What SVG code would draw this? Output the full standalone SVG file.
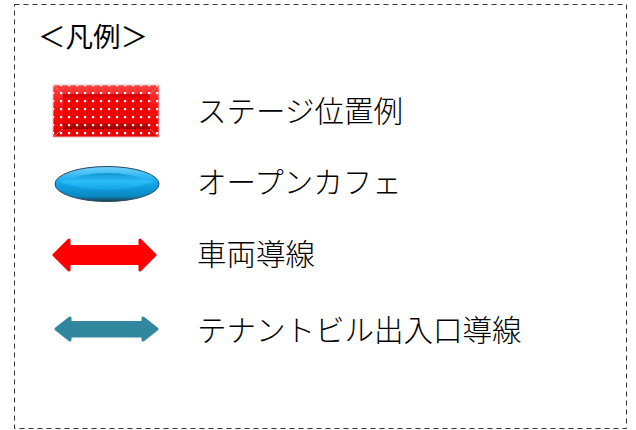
<svg xmlns="http://www.w3.org/2000/svg" width="636" height="430" viewBox="0 0 636 430">
<style>
.lbl{font-family:"Noto Sans CJK JP","DejaVu Sans",sans-serif;font-size:29.5px;fill:#000;font-weight:300}
.ttl{font-family:"Noto Sans CJK JP","DejaVu Sans",sans-serif;font-size:27.5px;fill:#000}
</style>
<defs>
<pattern id="dots" x="0" y="0" width="8" height="8" patternUnits="userSpaceOnUse">
<rect x="4" y="4" width="2.2" height="2.2" fill="#fff"/>
</pattern>
<linearGradient id="redV" x1="0" y1="0" x2="0" y2="1">
<stop offset="0" stop-color="#ff4040"/>
<stop offset="0.5" stop-color="#ff0a0a"/>
<stop offset="1" stop-color="#e80000"/>
</linearGradient>
<linearGradient id="redIn" x1="0" y1="0" x2="0" y2="1">
<stop offset="0" stop-color="#d00000"/>
<stop offset="0.15" stop-color="#f80000"/>
<stop offset="0.8" stop-color="#f00000"/>
<stop offset="1" stop-color="#8a0000"/>
</linearGradient>
<linearGradient id="blueG" x1="0" y1="0" x2="0" y2="1">
<stop offset="0" stop-color="#6fd0f8"/>
<stop offset="0.45" stop-color="#12aaf0"/>
<stop offset="0.85" stop-color="#0a88c0"/>
<stop offset="1" stop-color="#203c50"/>
</linearGradient>
<linearGradient id="blueLens" x1="0" y1="0" x2="0" y2="1">
<stop offset="0" stop-color="#0a90d0"/>
<stop offset="0.5" stop-color="#2ec0fa"/>
<stop offset="1" stop-color="#10a4e4"/>
</linearGradient>
</defs>
<rect x="14.5" y="4.5" width="612" height="424" fill="#fff" stroke="#333" stroke-width="1" stroke-dasharray="5 4"/>
<g id="title"><text class="ttl" x="38" y="47">＜凡例＞</text></g>
<g id="legend-stage">
<rect x="53" y="85" width="106" height="52" fill="url(#redV)" stroke="#e0b8b8" stroke-width="1"/>
<rect x="63" y="94" width="87" height="35" fill="url(#redIn)"/>
<path d="M53 85 L63 94 M159 85 L150 94 M53 137 L63 129 M159 137 L150 129" stroke="#ff7070" stroke-width="1"/>
<rect x="53" y="85" width="106" height="52" fill="url(#dots)"/>
<text class="lbl" x="197" y="122">ステージ位置例</text>
</g>
<g id="legend-cafe">
<ellipse cx="107" cy="184" rx="52" ry="17.5" fill="url(#blueG)" stroke="#2a4a60" stroke-width="1"/>
<path d="M60 182 Q107 164 154 182 Q107 198 60 182 Z" fill="url(#blueLens)" opacity="0.9"/>
<text class="lbl" x="197" y="193">オープンカフェ</text>
</g>
<g id="connectors">
<g id="legend-vehicle">
<polygon points="54,255 69,240 69,246.5 140,246.5 140,240 155,255 140,270 140,263.5 69,263.5 69,270" fill="#ff0000" stroke="#ff0000" stroke-width="3" stroke-linejoin="round"/>
</g>
<g id="legend-tenant">
<polygon points="56,329 70,318 70,322.5 143,322.5 143,318 157,329 143,340 143,336 70,336 70,340" fill="#31879e" stroke="#31879e" stroke-width="3" stroke-linejoin="round"/>
</g>
</g>
<text class="lbl" x="197" y="265">車両導線</text>
<text class="lbl" x="197" y="341">テナントビル出入口導線</text>
</svg>
